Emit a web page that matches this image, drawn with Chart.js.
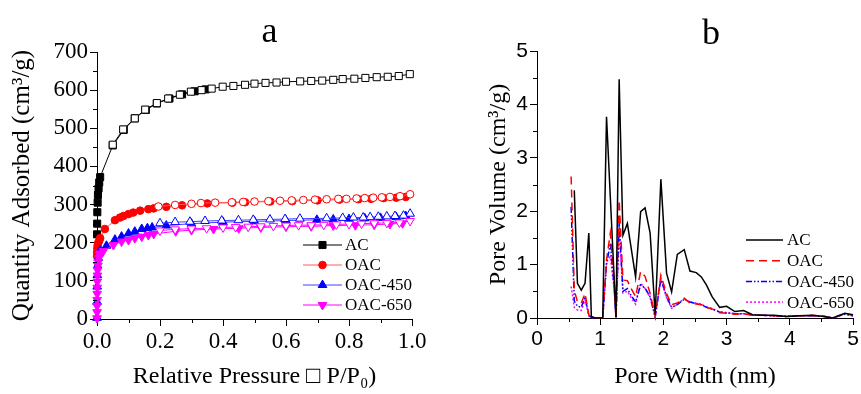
<!DOCTYPE html>
<html>
<head>
<meta charset="utf-8">
<script src="https://cdn.jsdelivr.net/npm/chart.js@4.4.1/dist/chart.umd.min.js"></script>
<style>
  html, body { margin: 0; padding: 0; background: #fff; }
  #wrapA { position: absolute; left: 0; top: 0; width: 430px; height: 394px; }
  #wrapB { position: absolute; left: 430px; top: 0; width: 431px; height: 394px; }
</style>
</head>
<body>
<div id="wrapA"><canvas id="isoChart"></canvas></div>
<div id="wrapB"><canvas id="poreChart"></canvas></div>
<script>
// ---- panel a: N2 isotherms (P/P0 vs quantity adsorbed, cm3/g) ----
const acAdsP = [0.0002, 0.0005, 0.001, 0.002, 0.003, 0.005, 0.007, 0.01, 0.05, 0.085, 0.12, 0.155, 0.19, 0.23, 0.27, 0.31, 0.345];
const acAdsQ = [222, 250, 280, 305, 325, 342, 358, 372, 455, 496, 526, 548, 565, 578, 589, 597, 602];
const acDesP = [0.993, 0.958, 0.923, 0.888, 0.852, 0.817, 0.78, 0.75, 0.715, 0.68, 0.645, 0.60, 0.57, 0.535, 0.50, 0.47, 0.433, 0.399, 0.364, 0.332, 0.298, 0.263, 0.226, 0.19, 0.153, 0.12, 0.083, 0.05];
const acDesQ = [642, 637, 635, 634, 632, 630, 629, 627, 625, 624, 623, 622, 620, 619, 617, 614, 611, 609, 604, 600, 596, 588, 578, 566, 549, 526, 497, 457];

const oacAdsP = [0.0002, 0.0005, 0.001, 0.002, 0.004, 0.007, 0.01, 0.025, 0.057, 0.073, 0.084, 0.1, 0.115, 0.137, 0.163, 0.18, 0.22, 0.27, 0.35, 0.43, 0.47, 0.55, 0.62, 0.7, 0.77, 0.83, 0.87, 0.91, 0.95, 0.98];
const oacAdsQ = [165, 175, 185, 193, 200, 205, 212, 236, 259, 266, 270, 275, 279, 284, 288, 290, 294, 298, 303, 305, 306, 308, 309, 311, 313, 314, 315, 317, 318, 320];
const oacDesP = [0.994, 0.962, 0.93, 0.904, 0.877, 0.85, 0.824, 0.792, 0.766, 0.729, 0.692, 0.655, 0.618, 0.581, 0.544, 0.5, 0.464, 0.428, 0.375, 0.33, 0.30, 0.248, 0.195];
const oacDesQ = [327, 322, 320, 319, 318, 317, 316, 315, 315, 314, 313, 312, 311, 310, 309, 308, 307, 306, 305, 304, 302, 299, 295];

const o450AdsP = [0.0001, 0.0003, 0.0006, 0.001, 0.002, 0.004, 0.007, 0.01, 0.03, 0.057, 0.078, 0.1, 0.12, 0.142, 0.16, 0.175, 0.22, 0.3, 0.4, 0.5, 0.6, 0.698, 0.75, 0.8, 0.85, 0.9, 0.95, 0.98];
const o450AdsQ = [3, 45, 85, 115, 140, 160, 172, 180, 192, 208, 216, 224, 229, 236, 238, 240, 245, 250, 254, 256, 258, 260, 261, 262, 264, 265, 267, 270];
const o450DesP = [0.994, 0.973, 0.946, 0.92, 0.893, 0.867, 0.845, 0.814, 0.78, 0.729, 0.644, 0.597, 0.549, 0.496, 0.449, 0.396, 0.343, 0.295, 0.248, 0.2];
const o450DesQ = [276, 271, 270, 269, 268, 267, 266, 266, 265, 264, 263, 262, 261, 260, 259, 258, 257, 255, 254, 251];

const o650AdsP = [0.0001, 0.0002, 0.0003, 0.0004, 0.0006, 0.0008, 0.001, 0.0015, 0.002, 0.003, 0.004, 0.006, 0.008, 0.01, 0.02, 0.052, 0.078, 0.1, 0.12, 0.142, 0.163, 0.18, 0.25, 0.3, 0.37, 0.45, 0.52, 0.6, 0.68, 0.75, 0.82, 0.88, 0.93, 0.97];
const o650AdsQ = [2, 18, 34, 50, 66, 82, 98, 114, 128, 140, 150, 160, 167, 172, 178, 194, 203, 207, 212, 216, 220, 223, 230, 233, 236, 238, 240, 242, 243, 245, 246, 247, 249, 251];
const o650DesP = [0.994, 0.96, 0.92, 0.88, 0.84, 0.8, 0.76, 0.72, 0.68, 0.64, 0.6, 0.56, 0.52, 0.48, 0.44, 0.4, 0.348, 0.3, 0.248, 0.2];
const o650DesQ = [257, 253, 252, 251, 250, 249, 248, 247, 246, 246, 245, 244, 243, 242, 241, 240, 238, 237, 235, 232];

// ---- panel b: pore size distribution (nm vs cm3/g) ----
const poreWidth = [0.54, 0.59, 0.64, 0.70, 0.76, 0.82, 0.86, 0.92, 0.98, 1.04, 1.10, 1.16, 1.22, 1.25, 1.30, 1.36, 1.43, 1.49, 1.56, 1.64, 1.71, 1.79, 1.87, 1.96, 2.05, 2.13, 2.22, 2.33, 2.42, 2.52, 2.60, 2.68, 2.77, 2.89, 3.00, 3.13, 3.27, 3.41, 3.57, 3.75, 3.95, 4.15, 4.35, 4.55, 4.68, 4.87, 5.00];
const poreAC = [null, 2.39, 0.65, 0.52, 0.65, 1.59, 0.03, 0, 0, 0, 3.77, null, null, 0.02, 4.47, 1.55, 1.77, null, 0.77, 1.99, 2.06, 1.59, 0.06, 2.60, 0.84, 0.49, 1.19, 1.28, 0.88, 0.85, 0.77, 0.62, 0.40, 0.20, 0.22, 0.12, 0.14, 0.06, 0.05, 0.05, 0.03, 0.04, 0.05, 0.03, 0.00, 0.09, 0.06];
const poreOAC = [2.65, 0.52, 0.30, 0.28, 0.46, 0.06, 0.01, 0, 0, 0, 1.09, 1.59, 0.70, 0, 2.21, 0.71, 0.70, 0.55, 0.40, 0.87, 0.78, 0.46, 0.03, 0.80, 0.46, 0.25, 0.28, 0.37, 0.28, 0.26, 0.25, 0.20, 0.17, 0.10, 0.09, 0.07, 0.08, 0.05, 0.05, 0.04, 0.03, 0.04, 0.05, 0.03, 0.00, 0.08, 0.05];
const pore450 = [2.08, 0.32, 0.22, 0.20, 0.40, 0.05, 0.01, 0, 0, 0, 1.00, 1.40, 0.60, 0, 1.80, 0.50, 0.55, 0.42, 0.30, 0.62, 0.56, 0.40, 0.02, 0.74, 0.40, 0.20, 0.25, 0.35, 0.30, 0.27, 0.25, 0.20, 0.17, 0.11, 0.10, 0.08, 0.08, 0.06, 0.05, 0.04, 0.03, 0.04, 0.04, 0.03, 0.00, 0.07, 0.04];
const pore650 = [0.59, 0.20, 0.15, 0.14, 0.34, 0.04, 0.01, 0, 0, 0, 1.05, 1.15, 0.55, 0, 1.60, 0.47, 0.50, 0.38, 0.26, 0.65, 0.55, 0.38, 0.02, 0.72, 0.38, 0.18, 0.26, 0.36, 0.30, 0.28, 0.26, 0.21, 0.18, 0.11, 0.10, 0.08, 0.08, 0.05, 0.05, 0.04, 0.03, 0.04, 0.04, 0.03, 0.00, 0.08, 0.04];

const serif = "'Liberation Serif', 'Times New Roman', serif";
const sans = "'Liberation Sans', Arial, sans-serif";

function xy(xs, ys) {
    return xs.map((x, i) => ({ x: x, y: ys[i] }));
}

// one isotherm branch; open markers for desorption
function isoSet(label, P, Q, color, lineColor, style, radius, rotation, open, order) {
    return {
        label: label,
        data: xy(P, Q),
        borderColor: lineColor,
        borderWidth: 1,
        pointStyle: style,
        pointRadius: radius,
        pointHoverRadius: radius,
        pointRotation: rotation,
        pointBorderColor: color,
        pointBackgroundColor: open ? '#fff' : color,
        pointBorderWidth: 1,
        tension: 0,
        clip: false,
        order: order
    };
}

function poreSet(label, ys, color, dash) {
    return {
        label: label,
        data: xy(poreWidth, ys),
        borderColor: color,
        borderWidth: 1.5,
        borderDash: dash,
        pointRadius: 0,
        pointHoverRadius: 0,
        spanGaps: true,
        tension: 0,
        clip: false
    };
}

// small outward minor ticks halfway between the major ones
const minorTicks = {
    id: 'minorTicks',
    afterDraw(chart) {
        const { ctx, chartArea, scales } = chart;
        ctx.save();
        ctx.strokeStyle = '#000';
        ctx.lineWidth = 1;
        ['x', 'y'].forEach(id => {
            const s = scales[id];
            for (let i = 0; i < s.ticks.length - 1; i++) {
                const v = (s.ticks[i].value + s.ticks[i + 1].value) / 2;
                const p = Math.round(s.getPixelForValue(v)) + 0.5;
                ctx.beginPath();
                if (id === 'x') {
                    ctx.moveTo(p, chartArea.bottom);
                    ctx.lineTo(p, chartArea.bottom + 4);
                } else {
                    ctx.moveTo(chartArea.left, p);
                    ctx.lineTo(chartArea.left - 4, p);
                }
                ctx.stroke();
            }
        });
        ctx.restore();
    }
};

// panel letter above the plot
const panelTitle = {
    id: 'panelTitle',
    afterDraw(chart, args, opts) {
        const { ctx, chartArea } = chart;
        ctx.save();
        ctx.font = '36px ' + serif;
        ctx.fillStyle = '#000';
        ctx.textAlign = 'center';
        ctx.textBaseline = 'alphabetic';
        ctx.fillText(opts.text, (chartArea.left + chartArea.right) / 2 + opts.dx, opts.y);
        ctx.restore();
    }
};

// legend with a line sample (and marker) like the original plot
const lineLegend = {
    id: 'lineLegend',
    afterDraw(chart, args, opts) {
        const { ctx, chartArea } = chart;
        const x0 = chartArea.right - opts.fromRight;
        let y = chartArea.bottom - opts.fromBottom;
        ctx.save();
        ctx.font = opts.fontSize + 'px ' + serif;
        ctx.textBaseline = 'middle';
        chart.data.datasets.forEach(ds => {
            if (!ds.label) return;
            ctx.save();
            ctx.strokeStyle = ds.borderColor;
            ctx.lineWidth = ds.borderWidth;
            ctx.setLineDash(ds.borderDash || []);
            ctx.beginPath();
            ctx.moveTo(x0, y);
            ctx.lineTo(x0 + opts.lineLen, y);
            ctx.stroke();
            ctx.restore();
            if (opts.markers) {
                ctx.fillStyle = ds.pointBackgroundColor;
                ctx.strokeStyle = ds.pointBorderColor;
                ctx.lineWidth = 1;
                Chart.helpers.drawPoint(ctx, {
                    pointStyle: ds.pointStyle,
                    radius: ds.pointRadius,
                    rotation: ds.pointRotation,
                    borderWidth: 1
                }, x0 + opts.lineLen / 2, y);
            }
            ctx.fillStyle = '#000';
            ctx.fillText(ds.label, x0 + opts.lineLen + opts.gap, y + 1);
            y += opts.rowH;
        });
        ctx.restore();
    }
};

function axis(min, max, step, font, fmt, title, titleSize, titlePad, size, isX) {
    return {
        type: 'linear',
        min: min,
        max: max,
        ticks: {
            stepSize: step,
            color: '#000',
            font: font,
            padding: 2,
            maxRotation: 0,
            autoSkip: false,
            callback: fmt
        },
        grid: { drawOnChartArea: false, tickLength: 7, tickColor: '#000', tickWidth: 1 },
        border: { color: '#000', width: 1 },
        title: {
            display: true,
            text: title,
            color: '#000',
            font: { family: serif, size: titleSize },
            padding: titlePad
        },
        afterFit: s => {
            if (isX) s.height = size; else s.width = size;
        }
    };
}

const isoChart = new Chart(document.getElementById('isoChart'), {
    type: 'line',
    data: {
        datasets: [
            isoSet('AC', acAdsP, acAdsQ, '#000', '#000', 'rect', 5, 0, false, 8),
            isoSet('', acDesP, acDesQ, '#000', '#000', 'rect', 5, 0, true, 7),
            isoSet('OAC', oacAdsP, oacAdsQ, '#ff0000', '#ff5a5a', 'circle', 3.8, 0, false, 6),
            isoSet('', oacDesP, oacDesQ, '#ff0000', '#ff5a5a', 'circle', 3.8, 0, true, 5),
            isoSet('OAC-450', o450AdsP, o450AdsQ, '#0000ff', '#4040ff', 'triangle', 5, 0, false, 4),
            isoSet('', o450DesP, o450DesQ, '#0000ff', '#4040ff', 'triangle', 5, 0, true, 3),
            isoSet('OAC-650', o650AdsP, o650AdsQ, '#ff00ff', '#ff00ff', 'triangle', 5, 180, false, 2),
            isoSet('', o650DesP, o650DesQ, '#ff00ff', '#ff00ff', 'triangle', 5, 180, true, 1)
        ]
    },
    options: {
        responsive: true,
        maintainAspectRatio: false,
        animation: false,
        layout: { padding: { top: 52, right: 18, left: 0, bottom: 0 } },
        plugins: {
            legend: { display: false },
            tooltip: { enabled: false },
            panelTitle: { text: 'a', dx: 15, y: 42 },
            lineLegend: { fromRight: 109, fromBottom: 74, rowH: 20, lineLen: 39, gap: 3, fontSize: 17, markers: true }
        },
        scales: {
            x: axis(0, 1, 0.2, { family: serif, size: 23 }, v => v.toFixed(1),
                'Relative Pressure \u25A1 P/P\u2080)', 24, { top: 0, bottom: 3 }, 75, true),
            y: axis(0, 700, 100, { family: serif, size: 23 }, v => v,
                'Quantity Adsorbed (cm\u00B3/g)', 25, { top: 7, bottom: 0 }, 97, false)
        }
    },
    plugins: [minorTicks, panelTitle, lineLegend]
});

const poreChart = new Chart(document.getElementById('poreChart'), {
    type: 'line',
    data: {
        datasets: [
            poreSet('AC', poreAC, '#000', []),
            poreSet('OAC', poreOAC, '#ff0000', [8, 5]),
            poreSet('OAC-450', pore450, '#0000ff', [6, 2, 1.5, 2, 1.5, 2]),
            poreSet('OAC-650', pore650, '#ff00ff', [2, 2])
        ]
    },
    options: {
        responsive: true,
        maintainAspectRatio: false,
        animation: false,
        layout: { padding: { top: 51, right: 8, left: 0, bottom: 0 } },
        plugins: {
            legend: { display: false },
            tooltip: { enabled: false },
            panelTitle: { text: 'b', dx: 16, y: 44 },
            lineLegend: { fromRight: 107, fromBottom: 78, rowH: 20.7, lineLen: 37, gap: 4, fontSize: 17, markers: false }
        },
        scales: {
            x: axis(0, 5, 1, { family: sans, size: 21 }, v => v,
                'Pore Width (nm)', 24, { top: 0, bottom: 3 }, 76, true),
            y: axis(0, 5, 1, { family: sans, size: 21 }, v => v,
                'Pore Volume (cm\u00B3/g)', 24, { top: 54, bottom: 0 }, 107, false)
        }
    },
    plugins: [minorTicks, panelTitle, lineLegend]
});
</script>
</body>
</html>
